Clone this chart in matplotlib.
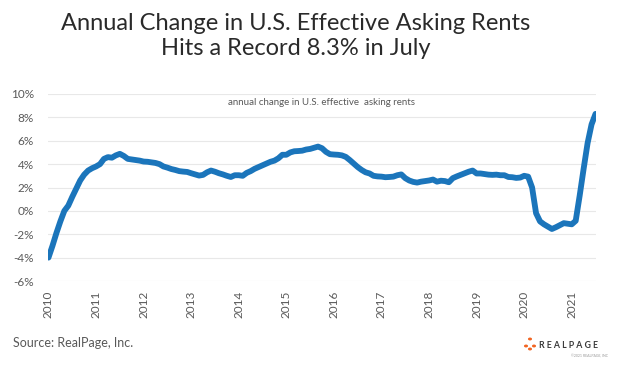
import matplotlib
matplotlib.use("Agg")
import matplotlib.pyplot as plt
import numpy as np
from matplotlib.patches import Circle

# Monthly annual change in U.S. effective asking rents, Jan 2010 .. Jul 2021 (%)
start_year = 2010
values = [
    -4.0, -3.0, -1.9, -0.9, 0.0, 0.45, 1.2, 1.9, 2.6, 3.1, 3.45, 3.65,        # 2010
    3.8, 4.0, 4.45, 4.6, 4.55, 4.75, 4.88, 4.7, 4.45, 4.4, 4.35, 4.3,          # 2011
    4.22, 4.2, 4.15, 4.1, 4.0, 3.8, 3.7, 3.58, 3.5, 3.4, 3.36, 3.33,           # 2012
    3.22, 3.12, 3.02, 3.08, 3.3, 3.45, 3.35, 3.22, 3.12, 3.0, 2.9, 3.05,       # 2013
    3.05, 3.0, 3.25, 3.4, 3.6, 3.75, 3.9, 4.05, 4.2, 4.3, 4.5, 4.8,            # 2014
    4.8, 5.0, 5.1, 5.12, 5.15, 5.25, 5.3, 5.4, 5.5, 5.36, 5.05, 4.85,          # 2015
    4.82, 4.8, 4.75, 4.62, 4.35, 4.05, 3.75, 3.5, 3.3, 3.2, 3.0, 2.95,         # 2016
    2.93, 2.88, 2.9, 2.93, 3.05, 3.12, 2.8, 2.6, 2.48, 2.42, 2.5, 2.55,        # 2017
    2.6, 2.68, 2.5, 2.58, 2.55, 2.45, 2.8, 2.95, 3.08, 3.2, 3.35, 3.45,        # 2018
    3.2, 3.2, 3.15, 3.1, 3.08, 3.1, 3.05, 3.05, 2.9, 2.88, 2.82, 2.85,         # 2019
    3.0, 2.93, 2.0, -0.2, -0.9, -1.15, -1.35, -1.55, -1.4, -1.22, -1.05, -1.1, # 2020
    -1.15, -0.85, 1.3, 3.6, 5.8, 7.4, 8.3,                                     # 2021
]
year_ticks = list(range(2010, 2022))
y_ticks = [-6, -4, -2, 0, 2, 4, 6, 8, 10]
y_tick_labels = [f"{v}%" for v in y_ticks]

title = "Annual Change in U.S. Effective Asking Rents\nHits a Record 8.3% in July"
series_label = "annual change in U.S. effective  asking rents"
source = "Source: RealPage, Inc."

FONT = ["Lato", "DejaVu Sans"]
plt.rcParams["font.family"] = FONT

t = start_year + np.arange(len(values)) / 12.0

fig = plt.figure(figsize=(6.28, 3.66), dpi=100)
ax = fig.add_axes([48 / 628, 1 - 281 / 366, (596 - 48) / 628, (281 - 94) / 366])

ax.plot(t, values, color="#1b75bb", lw=4.2, solid_capstyle="round", solid_joinstyle="round", zorder=3)

ax.set_ylim(-6, 10)
ax.set_xlim(t[0] - 0.01, t[-1] + 0.01)
ax.set_yticks(y_ticks)
ax.set_yticklabels(y_tick_labels)
ax.set_xticks(year_ticks)
ax.set_xticklabels([str(y) for y in year_ticks], rotation=90)
ax.tick_params(axis="both", length=0, colors="#595959", labelsize=8.5)
ax.tick_params(axis="y", pad=10)
ax.tick_params(axis="x", pad=7)
ax.grid(axis="y", color="#e8e8e8", lw=0.8, zorder=0)
for s in ax.spines.values():
    s.set_visible(False)

ax.text(0.5, 0.955, series_label, transform=ax.transAxes, ha="center", va="center",
        fontsize=7, color="#595959")

fig.text(296 / 628, 1 - 36 / 366, title, ha="center", va="center", fontsize=17,
         color="#2a2a2a", linespacing=1.25)

fig.text(13 / 628, 1 - 343 / 366, source, ha="left", va="center", fontsize=9, color="#595959")

# RealPage logo (decorative)
fig.text(539 / 628, 1 - 345 / 366, "R E A L P A G E", ha="left", va="center", fontsize=6.3,
         color="#3a3a3a", fontweight="bold")
fig.text(608 / 628, 1 - 356 / 366, "©2021 REALPAGE, INC", ha="right", va="center", fontsize=2.5,
         color="#9a9a9a")
for (dx, dy) in [(530, 339), (526, 346), (534, 346), (530, 349)]:
    fig.patches.append(Circle((dx / 628, 1 - dy / 366), 1.3 / 628, transform=fig.transFigure,
                              color="#f26522", zorder=5))

fig.savefig("out.png", dpi=100, facecolor="white")
